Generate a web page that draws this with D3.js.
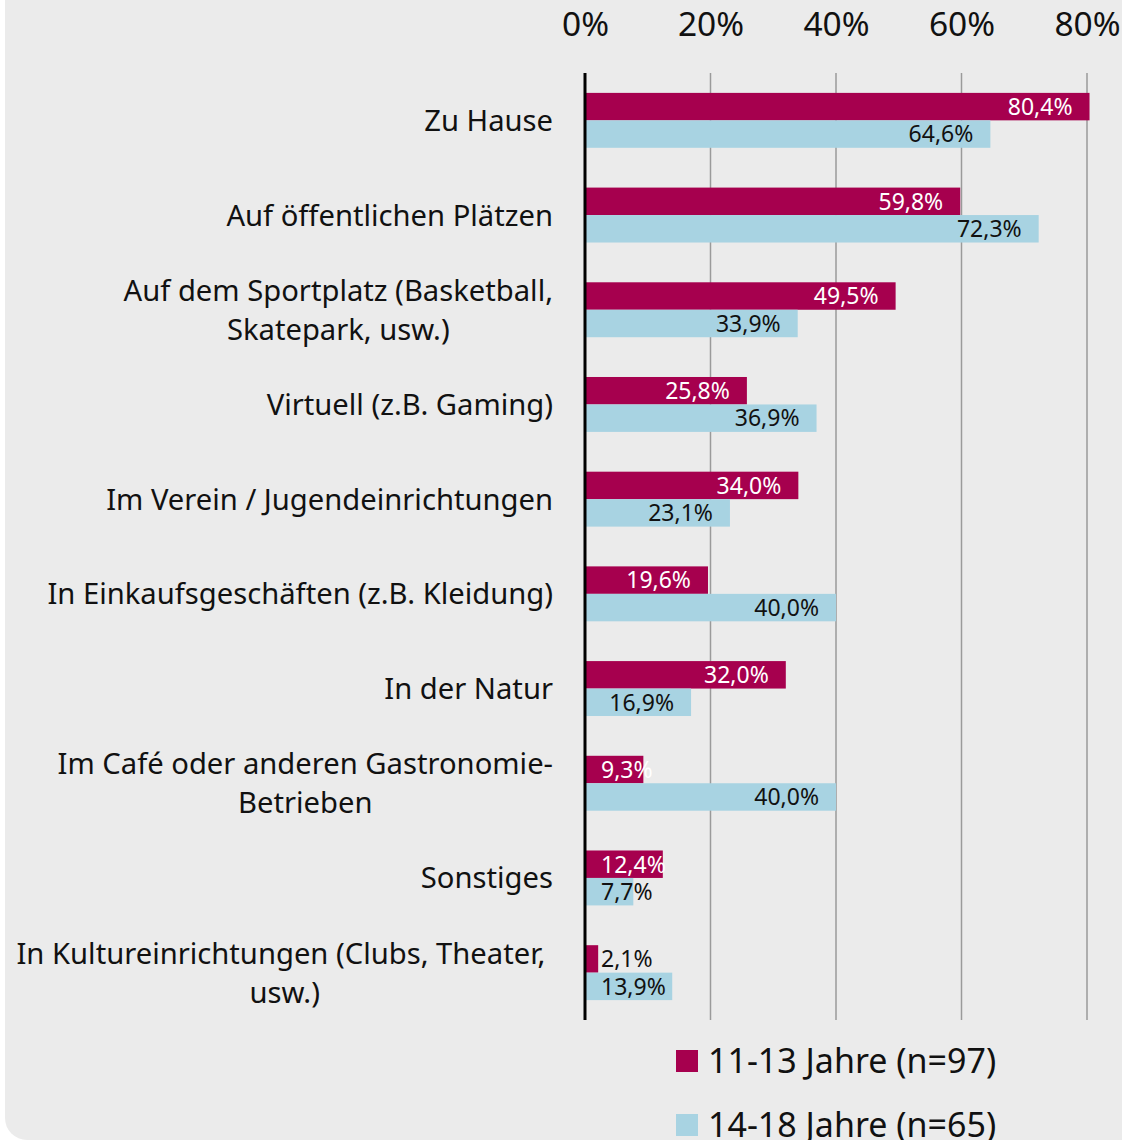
<!DOCTYPE html>
<html>
<head>
<meta charset="utf-8">
<script src="https://cdn.jsdelivr.net/npm/d3@7"></script>
<style>
  body { margin: 0; background: #ffffff; }
  text { font-family: "Noto Sans", "Open Sans", sans-serif; }
</style>
</head>
<body>
<div id="chart"></div>
<script>
var categories = [
    ["Zu Hause"],
    ["Auf öffentlichen Plätzen"],
    ["Auf dem Sportplatz (Basketball,", "Skatepark, usw.)"],
    ["Virtuell (z.B. Gaming)"],
    ["Im Verein / Jugendeinrichtungen"],
    ["In Einkaufsgeschäften (z.B. Kleidung)"],
    ["In der Natur"],
    ["Im Café oder anderen Gastronomie-", "Betrieben"],
    ["Sonstiges"],
    ["In Kultureinrichtungen (Clubs, Theater, ", "usw.)"]
]
var ages11 = [80.4, 59.8, 49.5, 25.8, 34.0, 19.6, 32.0, 9.3, 12.4, 2.1]
var ages14 = [64.6, 72.3, 33.9, 36.9, 23.1, 40.0, 16.9, 40.0, 7.7, 13.9]
var seriesNames = ["11-13 Jahre (n=97)", "14-18 Jahre (n=65)"]
var tickValues = [0, 20, 40, 60, 80]

var W = 1122, H = 1140
var colors = ["#a6004e", "#a8d3e2"]
var labelColors = ["#ffffff", "#111111"]

var svg = d3.select("#chart").append("svg")
    .attr("width", W)
    .attr("height", H)

// panel
svg.append("rect")
    .attr("x", 5).attr("y", -40)
    .attr("width", W + 40).attr("height", H + 40)
    .attr("rx", 22)
    .attr("fill", "#ebebeb")

var x = d3.scaleLinear().domain([0, 80]).range([585, 1087])
var y = d3.scaleBand()
    .domain(d3.range(categories.length))
    .range([73, 1020])
    .paddingInner(0.42)
    .paddingOuter(0.21)
var ySub = d3.scaleBand().domain([0, 1]).range([0, y.bandwidth()])

// grid
svg.selectAll(".grid").data(tickValues.filter(d => d > 0))
    .enter().append("line")
    .attr("x1", d => x(d)).attr("x2", d => x(d))
    .attr("y1", 73).attr("y2", 1020)
    .attr("stroke", "#9a9a9a")
    .attr("stroke-width", 1.5)

// top axis
var axis = svg.append("g")
    .attr("transform", "translate(0,39)")
    .call(d3.axisTop(x).tickValues(tickValues).tickSize(0).tickFormat(d => d + "%"))
axis.select(".domain").remove()
axis.selectAll("text")
    .attr("font-family", "Noto Sans")
    .attr("font-size", 33.5)
    .attr("fill", "#111")
    .attr("dy", 0)

var rows = categories.map(function(c, i) {
    return { i: i, vals: [ages11[i], ages14[i]] }
})

var groups = svg.selectAll(".row").data(rows)
    .enter().append("g")
    .attr("transform", d => "translate(0," + y(d.i) + ")")

groups.each(function(row) {
    var g = d3.select(this)
    row.vals.forEach(function(v, s) {
        g.append("rect")
            .attr("x", x(0))
            .attr("y", ySub(s))
            .attr("width", x(v) - x(0))
            .attr("height", ySub.bandwidth())
            .attr("fill", colors[s])

        var t = g.append("text")
            .attr("y", ySub(s) + ySub.bandwidth() / 2)
            .attr("dy", "0.36em")
            .attr("font-size", 23)
            .text(d3.format(".1f")(v).replace(".", ",") + "%")
        var w = t.node().getComputedTextLength()
        var start = Math.max(x(v) - 17 - w, 601)
        t.attr("x", start)
            .attr("fill", start >= x(v) ? "#111111" : labelColors[s])
    })
})

// category labels
groups.each(function(row) {
    var g = d3.select(this)
    var lines = categories[row.i]
    var lh = 39
    var cy = y.bandwidth() / 2
    var texts = lines.map(function(l, k) {
        return g.append("text")
            .attr("font-size", 29.2)
            .attr("fill", "#111")
            .attr("dy", "0.36em")
            .style("white-space", "pre")
            .attr("y", cy + (k - (lines.length - 1) / 2) * lh)
            .text(l)
    })
    if (lines.length == 1) {
        texts[0].attr("x", 553).attr("text-anchor", "end")
    } else {
        var maxW = d3.max(texts, t => t.node().getComputedTextLength())
        texts.forEach(t => t.attr("x", 553 - maxW / 2).attr("text-anchor", "middle"))
    }
})

// zero axis
svg.append("line")
    .attr("x1", x(0)).attr("x2", x(0))
    .attr("y1", 73).attr("y2", 1020)
    .attr("stroke", "#000")
    .attr("stroke-width", 3)

// legend
var legend = svg.selectAll(".legend").data(seriesNames)
    .enter().append("g")
    .attr("transform", (d, i) => "translate(676," + (1050 + i * 64) + ")")
legend.append("rect")
    .attr("width", 22).attr("height", 22)
    .attr("fill", (d, i) => colors[i])
legend.append("text")
    .attr("x", 32).attr("y", 11)
    .attr("dy", "0.36em")
    .attr("font-size", 34)
    .attr("fill", "#111")
    .text(d => d)
</script>
</body>
</html>
